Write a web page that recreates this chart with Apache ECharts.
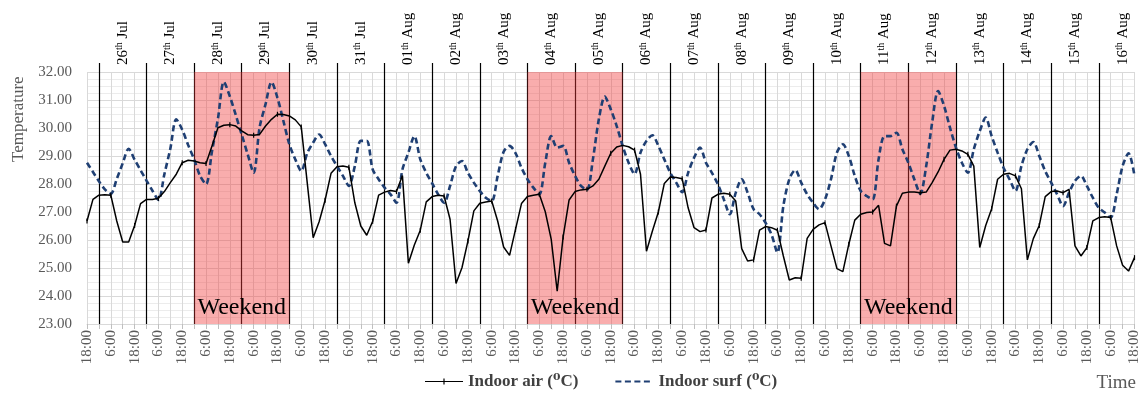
<!DOCTYPE html>
<html>
<head>
<meta charset="utf-8">
<script src="https://cdn.jsdelivr.net/npm/echarts@6/dist/echarts.min.js"></script>
<style>
html,body{margin:0;padding:0;background:#fff;}
#chart{width:1142px;height:396px;}
</style>
</head>
<body>
<div id="chart"></div>
<script>
// ---- data (3-hourly, starting 25 Jul 18:00) ----
const startHour = 18;
const stepHours = 3;
const airTemp = [
26.68, 27.45, 27.6, 27.62, 27.6, 26.68, 25.93, 25.93, 26.52, 27.3,
27.45, 27.45, 27.49, 27.73, 28.05, 28.35, 28.76, 28.85, 28.82, 28.76,
28.73, 29.36, 30.01, 30.1, 30.12, 30.07, 29.9, 29.76, 29.74, 29.77,
30.07, 30.31, 30.49, 30.48, 30.43, 30.29, 30.04, 28.05, 26.08, 26.65,
27.42, 28.38, 28.62, 28.64, 28.6, 27.33, 26.5, 26.17, 26.67, 27.6,
27.71, 27.77, 27.73, 28.3, 25.17, 25.82, 26.35, 27.36, 27.55, 27.6,
27.57, 26.74, 24.45, 25.01, 25.96, 27.04, 27.31, 27.36, 27.39, 26.68,
25.75, 25.45, 26.38, 27.3, 27.55, 27.6, 27.63, 27.01, 26.02, 24.17,
26.11, 27.43, 27.73, 27.79, 27.81, 27.93, 28.17, 28.64, 29.1, 29.32,
29.38, 29.33, 29.21, 28.35, 25.6, 26.32, 27.0, 28.02, 28.25, 28.23,
28.19, 27.15, 26.44, 26.3, 26.36, 27.5, 27.63, 27.67, 27.63, 27.39,
25.69, 25.25, 25.29, 26.35, 26.48, 26.44, 26.35, 25.43, 24.57, 24.65,
24.63, 26.06, 26.38, 26.54, 26.62, 25.79, 24.98, 24.87, 25.85, 26.71,
26.92, 26.98, 27.0, 27.24, 25.88, 25.79, 27.21, 27.67, 27.71, 27.71,
27.69, 27.71, 28.05, 28.43, 28.88, 29.21, 29.24, 29.18, 29.06, 28.64,
25.73, 26.52, 27.12, 28.17, 28.35, 28.38, 28.29, 27.83, 25.29, 26.05,
26.52, 27.55, 27.73, 27.75, 27.69, 27.81, 25.79, 25.43, 25.73, 26.68,
26.8, 26.83, 26.8, 25.79, 25.1, 24.89, 25.37
];
const surfTemp = [
28.76, 28.43, 28.1, 27.81, 27.65, 28.18, 28.74, 29.26, 28.87, 28.49,
28.12, 27.76, 27.43, 28.35, 29.26, 30.31, 29.94, 29.39, 28.88, 28.29,
27.99, 29.17, 30.33, 31.65, 31.13, 30.46, 29.76, 29.06, 28.4, 30.02,
30.85, 31.64, 31.08, 30.25, 29.42, 28.88, 28.46, 29.1, 29.48, 29.77,
29.42, 29.0, 28.64, 28.29, 27.93, 28.64, 29.54, 29.54, 28.52, 28.17,
27.87, 27.63, 27.33, 28.52, 29.12, 29.71, 28.88, 28.4, 28.02, 27.63,
27.33, 27.93, 28.64, 28.82, 28.4, 28.05, 27.75, 27.51, 27.39, 28.29,
29.15, 29.36, 29.1, 28.58, 28.17, 27.87, 27.63, 28.76, 29.71, 29.3,
29.36, 28.76, 28.29, 27.93, 27.79, 28.88, 30.31, 31.12, 30.67, 30.07,
29.36, 28.76, 28.35, 29.12, 29.54, 29.74, 29.36, 28.88, 28.4, 28.05,
27.71, 28.4, 28.94, 29.3, 28.76, 28.4, 27.99, 27.45, 26.92, 27.69,
28.17, 27.69, 27.1, 26.92, 26.62, 26.2, 25.55, 27.21, 28.17, 28.5,
28.05, 27.63, 27.33, 27.1, 27.45, 28.17, 29.12, 29.42, 29.0, 28.29,
27.75, 27.57, 27.45, 28.88, 29.71, 29.71, 29.83, 29.24, 28.76, 28.17,
27.65, 28.64, 30.19, 31.32, 30.79, 30.01, 29.3, 28.76, 28.4, 29.24,
29.89, 30.37, 29.71, 29.12, 28.58, 28.17, 27.75, 28.64, 29.24, 29.5,
29.0, 28.46, 28.05, 27.63, 27.21, 27.69, 28.11, 28.29, 27.93, 27.51,
27.15, 26.98, 26.8, 27.63, 28.64, 29.1, 28.29
];
const dateLabels = [
'26th Jul','27th Jul','28th Jul','29th Jul','30th Jul','31th Jul',
'01th Aug','02th Aug','03th Aug','04th Aug','05th Aug','06th Aug',
'07th Aug','08th Aug','09th Aug','10th Aug','11th Aug','12th Aug',
'13th Aug','14th Aug','15th Aug','16th Aug'
];
// weekend spans as [first day index, last day index] into dateLabels
const weekendDays = [[2,3],[9,10],[16,17]];
const seriesNames = ['Indoor air (\u2070C)', 'Indoor surf (\u2070C)'];
const yTicks = {min: 23, max: 32, step: 1};

// ---- derived ----
const categories = airTemp.map((_, i) => ((startHour + i * stepHours) % 24) + ':00');
const perDay = 24 / stepHours;               // 8 points per day
const midnightOffset = (24 - startHour) / stepHours; // index of first midnight
const noonOffset = midnightOffset + perDay / 2;
const isMidnight = i => (i - midnightOffset) % perDay === 0 && i >= midnightOffset;
const isNoon = i => (i - noonOffset) % perDay === 0 && i >= noonOffset;

const SERIF = '"Liberation Serif", "DejaVu Serif", serif';

const weekendAreas = weekendDays.map(([a, b]) => [
  {xAxis: midnightOffset + a * perDay},
  {xAxis: midnightOffset + (b + 1) * perDay}
]);

const chart = echarts.init(document.getElementById('chart'), null, {renderer: 'canvas'});
chart.setOption({
  animation: false,
  backgroundColor: '#fff',
  grid: {left: 87, right: 7, top: 72, bottom: 72},
  xAxis: [
    {
      type: 'category', data: categories, boundaryGap: false, position: 'bottom',
      axisLine: {lineStyle: {color: '#d9d9d9'}},
      axisTick: {interval: 1, length: 5, lineStyle: {color: '#bfbfbf'}},
      axisLabel: {interval: 3, rotate: 90, margin: 6, fontFamily: SERIF, fontSize: 15, color: '#595959'},
      splitLine: {show: true, interval: 1, lineStyle: {color: '#d9d9d9', width: 1}}
    },
    {
      type: 'category', data: categories, boundaryGap: false, position: 'top',
      axisLine: {show: false},
      axisTick: {show: true, interval: (i) => isMidnight(i), length: 9, lineStyle: {color: '#000', width: 1.2}},
      splitLine: {show: true, interval: (i) => isMidnight(i), lineStyle: {color: '#000', width: 1.2}},
      axisLabel: {
        interval: (i) => isNoon(i), rotate: -90, margin: 7,
        formatter: function (v, i) {
          const d = (i - noonOffset) / perDay;
          const s = dateLabels[d] || '';
          const m = s.match(/^(\d+)(st|nd|rd|th)(.*)$/);
          if (!m) return s;
          return '{n|' + m[1] + '}{s|' + m[2] + '}{n|' + m[3] + '}';
        },
        rich: {
          n: {fontFamily: SERIF, fontSize: 15, color: '#000'},
          s: {fontFamily: SERIF, fontSize: 10, color: '#000', verticalAlign: 'top', padding: [0, 0, 6, 0]}
        }
      }
    }
  ],
  yAxis: {
    type: 'value', min: yTicks.min, max: yTicks.max, interval: yTicks.step,
    axisLine: {show: false}, axisTick: {show: false},
    axisLabel: {formatter: v => v.toFixed(2), fontFamily: SERIF, fontSize: 15, color: '#595959', margin: 15},
    splitLine: {lineStyle: {color: '#d9d9d9', width: 1.2}},
    minorTick: {show: false, splitNumber: 4},
    minorSplitLine: {show: true, lineStyle: {color: '#ececec', width: 1}}
  },
  legend: {
    data: [
      {name: seriesNames[0], icon: 'path://M0,4.4L38,4.4L38,5.6L0,5.6Z M18.4,2L19.6,2L19.6,8L18.4,8Z'},
      {name: seriesNames[1], itemStyle: {opacity: 0}}
    ],
    bottom: 1, left: 420, itemWidth: 38, itemHeight: 10, itemGap: 36,
    textStyle: {fontFamily: SERIF, fontSize: 17, fontWeight: 'bold', color: '#404040'}
  },
  graphic: [
    {type: 'text', x: 10, y: 162, rotation: Math.PI / 2, style: {text: 'Temperature', font: '17px ' + SERIF, fill: '#595959'}},
    {type: 'text', right: 6, top: 374, style: {text: 'Time', font: '19px ' + SERIF, fill: '#595959'}}
  ],
  series: [
    {
      name: '_weekend', type: 'line', data: airTemp.map(() => null), z: 1, silent: true, symbol: 'none',
      markArea: {
        silent: true,
        itemStyle: {color: 'rgba(240,60,60,0.42)'},
        label: {show: true, position: 'insideBottom', distance: 4, formatter: 'Weekend', fontFamily: SERIF, fontSize: 24, color: '#000'},
        data: weekendAreas
      }
    },
    {
      name: seriesNames[0], type: 'line', data: airTemp, z: 4,
      color: '#000', lineStyle: {width: 1.5, color: '#000'},
      symbol: 'rect', symbolSize: [1.2, 5], showSymbol: true, itemStyle: {color: '#000'}
    },
    {
      name: seriesNames[1], type: 'line', data: surfTemp, z: 3, smooth: 0.3,
      color: '#1F3F73', lineStyle: {width: 2.6, color: '#1F3F73', type: [6, 3.5]},
      symbol: 'none'
    }
  ]
});
</script>
</body>
</html>
